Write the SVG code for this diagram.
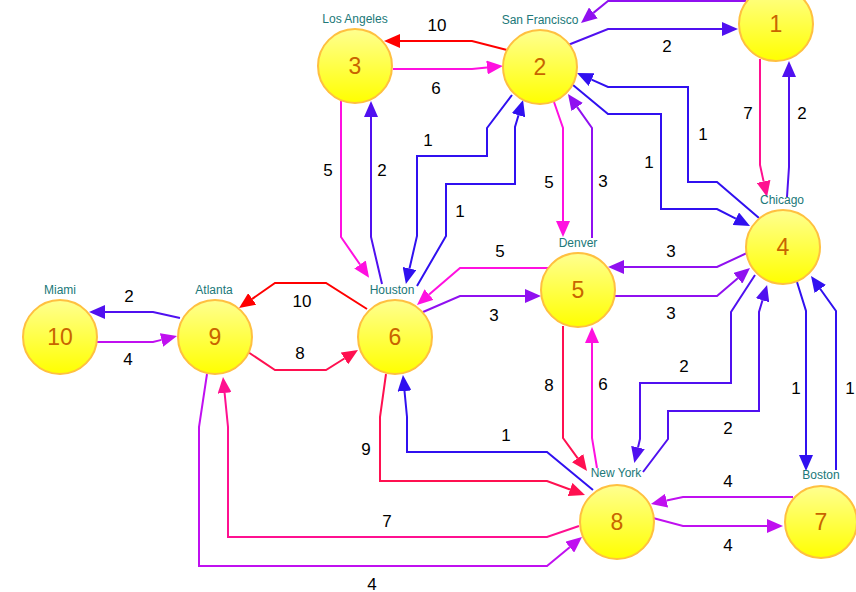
<svg xmlns="http://www.w3.org/2000/svg" width="856" height="592" viewBox="0 0 856 592">
<style>
.e{fill:none;stroke-width:2;stroke-linejoin:miter}
.red{stroke:#ff0000}.crim{stroke:#ff1050}.dpink{stroke:#ff1090}.mag{stroke:#ff10e0}
.pur{stroke:#9010f0}.vio{stroke:#c010f0}.bv{stroke:#5010f0}.blu{stroke:#3010f0}
.w{font-family:"Liberation Sans",Arial,sans-serif;font-size:17px;fill:#000;text-anchor:middle;dominant-baseline:central}
.n circle{fill:url(#g);stroke:#ffc040;stroke-width:2}
.num{font-family:"Liberation Sans",Arial,sans-serif;font-size:23px;fill:#c86400;text-anchor:middle;dominant-baseline:central}
.city{font-family:"Liberation Sans",Arial,sans-serif;font-size:12px;fill:#207878;text-anchor:middle}
</style>
<defs>
<linearGradient id="g" x1="0" y1="0" x2="0" y2="1">
<stop offset="0" stop-color="#ffff90"/><stop offset="1" stop-color="#ffff00"/>
</linearGradient>
<marker id="m-red" markerUnits="userSpaceOnUse" markerWidth="16" markerHeight="14" refX="0" refY="7" orient="auto"><path d="M0,0L16,7L0,14z" fill="#ff0000"/></marker>
<marker id="m-crim" markerUnits="userSpaceOnUse" markerWidth="16" markerHeight="14" refX="0" refY="7" orient="auto"><path d="M0,0L16,7L0,14z" fill="#ff1050"/></marker>
<marker id="m-dpink" markerUnits="userSpaceOnUse" markerWidth="16" markerHeight="14" refX="0" refY="7" orient="auto"><path d="M0,0L16,7L0,14z" fill="#ff1090"/></marker>
<marker id="m-mag" markerUnits="userSpaceOnUse" markerWidth="16" markerHeight="14" refX="0" refY="7" orient="auto"><path d="M0,0L16,7L0,14z" fill="#ff10e0"/></marker>
<marker id="m-pur" markerUnits="userSpaceOnUse" markerWidth="16" markerHeight="14" refX="0" refY="7" orient="auto"><path d="M0,0L16,7L0,14z" fill="#9010f0"/></marker>
<marker id="m-vio" markerUnits="userSpaceOnUse" markerWidth="16" markerHeight="14" refX="0" refY="7" orient="auto"><path d="M0,0L16,7L0,14z" fill="#c010f0"/></marker>
<marker id="m-bv" markerUnits="userSpaceOnUse" markerWidth="16" markerHeight="14" refX="0" refY="7" orient="auto"><path d="M0,0L16,7L0,14z" fill="#5010f0"/></marker>
<marker id="m-blu" markerUnits="userSpaceOnUse" markerWidth="16" markerHeight="14" refX="0" refY="7" orient="auto"><path d="M0,0L16,7L0,14z" fill="#3010f0"/></marker>
</defs>
<rect width="856" height="592" fill="#ffffff"/>
<g id="connectors">
<path class="e red" marker-end="url(#m-red)" d="M507,50 L472,41 L400,41"/>
<path class="e mag" marker-end="url(#m-mag)" d="M393,69 L472,69 L487,67.5"/>
<path class="e mag" marker-end="url(#m-mag)" d="M341,101 L341,237 L360,264.5"/>
<path class="e bv" marker-end="url(#m-bv)" d="M382,284 L371,237 L371,117"/>
<path class="e blu" marker-end="url(#m-blu)" d="M512,95 L487,128 L487,156 L417,156 L417,236 L409.5,268.5"/>
<path class="e blu" marker-end="url(#m-blu)" d="M417,286 L446,236 L446,184 L515,184 L515,127 L518.5,115.3"/>
<path class="e mag" marker-end="url(#m-mag)" d="M554,102 L563,128 L563,221"/>
<path class="e pur" marker-end="url(#m-pur)" d="M592,238 L592,128 L577.2,107.1"/>
<path class="e bv" marker-end="url(#m-bv)" d="M568,45 L608,29 L722,29"/>
<path class="e pur" marker-end="url(#m-pur)" d="M746,1 L608,1 L593.4,12.9"/>
<path class="e dpink" marker-end="url(#m-dpink)" d="M760,59 L760,165 L763.6,181.4"/>
<path class="e bv" marker-end="url(#m-bv)" d="M787,197 L789,167 L789,77"/>
<path class="e blu" marker-end="url(#m-blu)" d="M759,218 L717,182 L688,182 L688,87 L608,87 L591.6,79.6"/>
<path class="e blu" marker-end="url(#m-blu)" d="M573,85 L608,114 L661,114 L661,209 L717,209 L735.8,218.7"/>
<path class="e pur" marker-end="url(#m-pur)" d="M747,253 L717,267 L624,267"/>
<path class="e pur" marker-end="url(#m-pur)" d="M615,296 L717,296 L737.8,278.3"/>
<path class="e mag" marker-end="url(#m-mag)" d="M548,268 L460,268 L429.1,294.6"/>
<path class="e pur" marker-end="url(#m-pur)" d="M423,312 L460,296 L525,296"/>
<path class="e red" marker-end="url(#m-red)" d="M367,309 L326,283 L275,283 L252.2,298.9"/>
<path class="e crim" marker-end="url(#m-crim)" d="M248,352 L275,370 L326,370 L344.4,358.5"/>
<path class="e bv" marker-end="url(#m-bv)" d="M180,318 L153,312 L105,312"/>
<path class="e vio" marker-end="url(#m-vio)" d="M97,342 L153,342 L161.5,339.9"/>
<path class="e crim" marker-end="url(#m-crim)" d="M386,374 L380,417 L380,481 L547,481 L570,489.5"/>
<path class="e blu" marker-end="url(#m-blu)" d="M593,490 L547,452 L407,452 L407,417 L404.5,391"/>
<path class="e dpink" marker-end="url(#m-dpink)" d="M579,526 L547,537 L228,537 L228,427 L224.6,393"/>
<path class="e vio" marker-end="url(#m-vio)" d="M207,374 L199,427 L199,566 L547,566 L569.7,547.2"/>
<path class="e crim" marker-end="url(#m-crim)" d="M563,326 L563,438 L577.6,458.1"/>
<path class="e mag" marker-end="url(#m-mag)" d="M597,468 L592,438 L592,343"/>
<path class="e bv" marker-end="url(#m-bv)" d="M755,275 L731,312 L731,383 L640,383 L640,439 L638,447.5"/>
<path class="e bv" marker-end="url(#m-bv)" d="M643,472 L668,439 L668,411 L759,411 L759,312 L762.5,300.3"/>
<path class="e blu" marker-end="url(#m-blu)" d="M797,282 L806,311 L806,455"/>
<path class="e blu" marker-end="url(#m-blu)" d="M836,470 L836,311 L820.3,289"/>
<path class="e vio" marker-end="url(#m-vio)" d="M793,497 L683,497 L666.6,500.6"/>
<path class="e vio" marker-end="url(#m-vio)" d="M653,518 L683,526 L767,526"/>
</g>
<g id="edge-labels">
<text class="w" x="437" y="25">10</text>
<text class="w" x="436" y="88">6</text>
<text class="w" x="328" y="170">5</text>
<text class="w" x="382" y="170">2</text>
<text class="w" x="428" y="140">1</text>
<text class="w" x="460" y="211">1</text>
<text class="w" x="549" y="182">5</text>
<text class="w" x="603" y="181">3</text>
<text class="w" x="667" y="46">2</text>
<text class="w" x="748" y="113">7</text>
<text class="w" x="802" y="113">2</text>
<text class="w" x="703" y="134">1</text>
<text class="w" x="649" y="162">1</text>
<text class="w" x="671" y="251">3</text>
<text class="w" x="671" y="313">3</text>
<text class="w" x="500" y="251">5</text>
<text class="w" x="494" y="315">3</text>
<text class="w" x="302" y="301">10</text>
<text class="w" x="300" y="353">8</text>
<text class="w" x="129" y="296">2</text>
<text class="w" x="128" y="359">4</text>
<text class="w" x="366" y="449">9</text>
<text class="w" x="506" y="435">1</text>
<text class="w" x="387" y="521">7</text>
<text class="w" x="372" y="584">4</text>
<text class="w" x="549" y="385">8</text>
<text class="w" x="603" y="384">6</text>
<text class="w" x="684" y="366">2</text>
<text class="w" x="728" y="428">2</text>
<text class="w" x="796" y="388">1</text>
<text class="w" x="850" y="388">1</text>
<text class="w" x="728" y="481">4</text>
<text class="w" x="728" y="545">4</text>
</g>
<g id="node-1" class="n"><circle cx="776" cy="24" r="37"/><text class="num" x="776" y="24">1</text></g>
<g id="node-2" class="n"><circle cx="540" cy="67" r="37"/><text class="num" x="540" y="67">2</text><text class="city" x="540" y="24">San Francisco</text></g>
<g id="node-3" class="n"><circle cx="355" cy="66" r="37"/><text class="num" x="355" y="66">3</text><text class="city" x="355" y="23">Los Angeles</text></g>
<g id="node-4" class="n"><circle cx="783" cy="247" r="37"/><text class="num" x="783" y="247">4</text><text class="city" x="782" y="204">Chicago</text></g>
<g id="node-5" class="n"><circle cx="578" cy="290" r="37"/><text class="num" x="578" y="290">5</text><text class="city" x="578" y="247">Denver</text></g>
<g id="node-6" class="n"><circle cx="395" cy="337" r="37"/><text class="num" x="395" y="337">6</text><text class="city" x="392" y="294">Houston</text></g>
<g id="node-7" class="n"><circle cx="821" cy="522" r="36"/><text class="num" x="821" y="522">7</text><text class="city" x="821" y="479">Boston</text></g>
<g id="node-8" class="n"><circle cx="617" cy="522" r="37"/><text class="num" x="617" y="522">8</text><text class="city" x="616" y="477">New York</text></g>
<g id="node-9" class="n"><circle cx="215" cy="337" r="37"/><text class="num" x="215" y="337">9</text><text class="city" x="214" y="294">Atlanta</text></g>
<g id="node-10" class="n"><circle cx="60" cy="337" r="37"/><text class="num" x="60" y="337">10</text><text class="city" x="60" y="294">Miami</text></g>
</svg>
